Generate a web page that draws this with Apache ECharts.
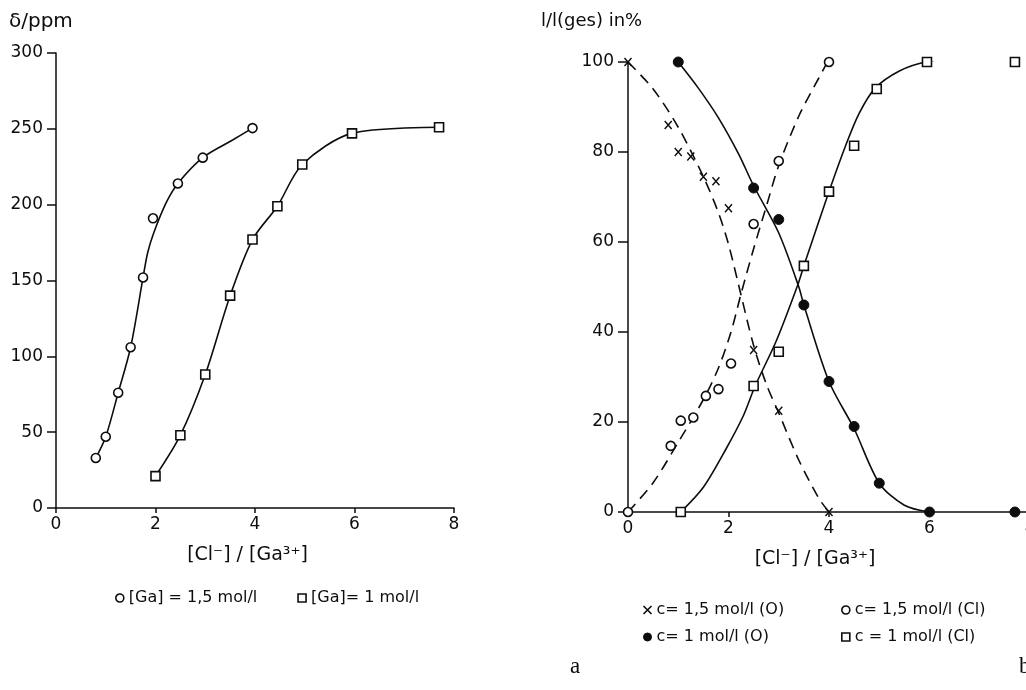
<!DOCTYPE html>
<html>
<head>
<meta charset="utf-8">
<script src="https://cdn.jsdelivr.net/npm/echarts@6/dist/echarts.min.js"></script>
<style>
  html, body { margin: 0; background: #fff; }
  #chart { width: 1026px; height: 690px; }
</style>
</head>
<body>
<div id="chart"></div>
<script>
// --- panel a: shift vs [Cl-]/[Ga3+]
var ga15X = [0.8, 1.0, 1.25, 1.5, 1.75, 1.95, 2.45, 2.95, 3.95];
var ga15Y = [33, 47, 76, 106, 152, 191, 214, 231, 250.5];
var ga15CurveX = [0.8, 1.0, 1.25, 1.5, 1.75, 1.84, 1.96, 2.21, 2.45, 2.95, 3.55, 3.95];
var ga15CurveY = [33, 47, 76, 106, 152, 168, 181, 201, 214, 231, 242.6, 250.5];
var ga1X = [2, 2.5, 3, 3.5, 3.95, 4.45, 4.95, 5.95, 7.7];
var ga1Y = [21, 48, 88, 140, 177, 199, 226.5, 247, 251];

// --- panel b: I/I(ges) in %
var oc15X = [0, 0.8, 1.0, 1.25, 1.5, 1.75, 2.0, 2.5, 3.0, 4.0];
var oc15Y = [100, 86, 80, 79, 74.5, 73.5, 67.5, 36, 22.5, 0];
var oc15CurveX = [0, 0.5, 1.0, 1.5, 1.8, 2.0, 2.2, 2.5, 2.75, 3.0, 3.4, 3.8, 4.0];
var oc15CurveY = [100, 94, 85.5, 74.5, 66.5, 59.5, 50.5, 37, 28.5, 22, 11.5, 3, 0];

var cl15X = [0, 0.85, 1.05, 1.3, 1.55, 1.8, 2.05, 2.5, 3.0, 4.0];
var cl15Y = [0, 14.7, 20.3, 21, 25.8, 27.3, 33, 64, 78, 100];
var cl15CurveX = [0, 0.5, 1.0, 1.5, 1.8, 2.05, 2.25, 2.5, 2.75, 3.0, 3.4, 3.8, 3.97];
var cl15CurveY = [0, 6.5, 15.5, 25, 32, 40, 48.5, 58.5, 67.8, 77, 88, 96.5, 100];

var oc1X = [1, 2.5, 3, 3.5, 4, 4.5, 5, 6, 7.7];
var oc1Y = [100, 72, 65, 46, 29, 19, 6.4, 0, 0];
var oc1CurveX = [1, 1.4, 1.8, 2.2, 2.5, 3.0, 3.4, 3.5, 4, 4.5, 5, 5.5, 6];
var oc1CurveY = [100, 94.2, 87.6, 79.6, 72.5, 62, 50, 46, 29, 18.5, 6.4, 1.5, 0];

var cl1X = [1.05, 2.5, 3, 3.5, 4, 4.5, 4.95, 5.95, 7.7];
var cl1Y = [0, 28, 35.6, 54.7, 71.2, 81.4, 94, 100, 100];
var cl1CurveX = [1.05, 1.5, 1.95, 2.3, 2.53, 2.95, 3.38, 3.5, 4.0, 4.33, 4.6, 4.92, 5.4, 5.92, 6.7, 7.65];
var cl1CurveY = [0, 5.5, 14, 21.5, 28, 38, 50.5, 54.7, 71.2, 81.4, 88.6, 94.2, 98, 100, 101, 101];

var xTicks = [0, 2, 4, 6, 8];

function zip(xs, ys) {
  return xs.map(function (x, i) { return [x, ys[i]]; });
}

var ink = '#0d0d0d';
var font = 'DejaVu Sans';
var crossPath = 'path://M0,0L10,10M10,0L0,10';
var hollow = { color: '#fff', borderColor: ink, borderWidth: 1.6, opacity: 1 };
var solid = { color: ink, borderColor: ink, borderWidth: 1, opacity: 1 };
var crossStyle = { color: 'none', borderColor: ink, borderWidth: 1.6, opacity: 1 };

function xAxisOf(idx, padRight) {
  return {
    type: 'value', gridIndex: idx, min: 0, max: 8, interval: 2,
    name: '[Cl⁻] / [Ga³⁺]', nameLocation: 'middle', nameGap: 38,
    nameTextStyle: { fontFamily: font, fontSize: 19, color: ink, padding: [0, padRight, 0, 0] },
    axisLine: { lineStyle: { color: ink, width: 1.5 } },
    axisTick: { length: 5, lineStyle: { color: ink, width: 1.5 } },
    axisLabel: { margin: 8, fontFamily: font, fontSize: 17, color: ink, showMaxLabel: true,
      formatter: function (v) { return xTicks.indexOf(v) >= 0 ? String(v) : ''; } },
    splitLine: { show: false }
  };
}

function yAxisOf(idx, max, step, tick, margin) {
  return {
    type: 'value', gridIndex: idx, min: 0, max: max, interval: step,
    axisLine: { show: true, lineStyle: { color: ink, width: 1.5 } },
    axisTick: { show: true, length: tick, lineStyle: { color: ink, width: 1.5 } },
    axisLabel: { margin: margin, fontFamily: font, fontSize: 17, color: ink },
    splitLine: { show: false }
  };
}

function curve(name, xi, data, dashed) {
  return {
    name: name, type: 'line', xAxisIndex: xi, yAxisIndex: xi, data: data,
    smooth: 0.3, showSymbol: false, silent: true, z: 2,
    lineStyle: { color: ink, width: 1.6, type: dashed ? [11, 7] : 'solid' }
  };
}

function marks(name, xi, data, symbol, size, style) {
  return {
    name: name, type: 'scatter', xAxisIndex: xi, yAxisIndex: xi, data: data,
    symbol: symbol, symbolSize: size, itemStyle: style, z: 5
  };
}

var nGa15 = '[Ga] = 1,5 mol/l';
var nGa1 = '[Ga]= 1 mol/l';
var nOc15 = 'c= 1,5 mol/l (O)';
var nCl15 = 'c= 1,5 mol/l (Cl)';
var nOc1 = 'c= 1 mol/l (O)';
var nCl1 = 'c = 1 mol/l (Cl)';

var legendText = { fontFamily: font, fontSize: 16, color: ink, lineHeight: 18 };

var chart = echarts.init(document.getElementById('chart'));
chart.setOption({
  backgroundColor: '#fff',
  animation: false,
  grid: [
    { left: 56, right: 572, top: 53, bottom: 182, outerBoundsMode: 'none' },
    { left: 628, right: -4, top: 62, bottom: 178, outerBoundsMode: 'none' }
  ],
  xAxis: [xAxisOf(0, 15), xAxisOf(1, 28)],
  yAxis: [yAxisOf(0, 300, 50, 9, 13), yAxisOf(1, 100, 20, 10, 14)],
  legend: [
    { left: 110, top: 584, itemGap: 40, itemWidth: 8, itemHeight: 8, textStyle: legendText,
      data: [
        { name: nGa15, icon: 'circle', itemStyle: hollow },
        { name: nGa1, icon: 'rect', itemStyle: hollow }
      ] },
    { left: 636, top: 596, orient: 'vertical', itemGap: 9, itemWidth: 8, itemHeight: 8, textStyle: legendText,
      data: [
        { name: nOc15, icon: crossPath, itemStyle: crossStyle },
        { name: nOc1, icon: 'circle', itemStyle: solid }
      ] },
    { left: 836, top: 596, orient: 'vertical', itemGap: 9, itemWidth: 8, itemHeight: 8, textStyle: legendText,
      data: [
        { name: nCl15, icon: 'circle', itemStyle: hollow },
        { name: nCl1, icon: 'rect', itemStyle: hollow }
      ] }
  ],
  graphic: [
    { type: 'text', left: 9, top: 12, style: { text: 'δ/ppm', fontFamily: font, fontSize: 20, fill: ink } },
    { type: 'text', left: 541, top: 12, style: { text: 'l/l(ges) in%', fontFamily: font, fontSize: 18, fill: ink } },
    { type: 'text', left: 570, top: 655, style: { text: 'a', fontFamily: 'Liberation Serif', fontSize: 23, fill: ink } },
    { type: 'text', left: 1019, top: 655, style: { text: 'b', fontFamily: 'Liberation Serif', fontSize: 23, fill: ink } }
  ],
  series: [
    curve('c-ga15', 0, zip(ga15CurveX, ga15CurveY), false),
    curve('c-ga1', 0, zip(ga1X, ga1Y), false),
    marks(nGa15, 0, zip(ga15X, ga15Y), 'circle', 9, hollow),
    marks(nGa1, 0, zip(ga1X, ga1Y), 'rect', 9, hollow),

    curve('c-oc15', 1, zip(oc15CurveX, oc15CurveY), true),
    curve('c-cl15', 1, zip(cl15CurveX, cl15CurveY), true),
    curve('c-oc1', 1, zip(oc1CurveX, oc1CurveY), false),
    curve('c-cl1', 1, zip(cl1CurveX, cl1CurveY), false),
    marks(nOc15, 1, zip(oc15X, oc15Y), crossPath, [7, 8], crossStyle),
    marks(nCl15, 1, zip(cl15X, cl15Y), 'circle', 9, hollow),
    marks(nOc1, 1, zip(oc1X, oc1Y), 'circle', 10, solid),
    marks(nCl1, 1, zip(cl1X, cl1Y), 'rect', 9, hollow)
  ]
});
</script>
</body>
</html>
